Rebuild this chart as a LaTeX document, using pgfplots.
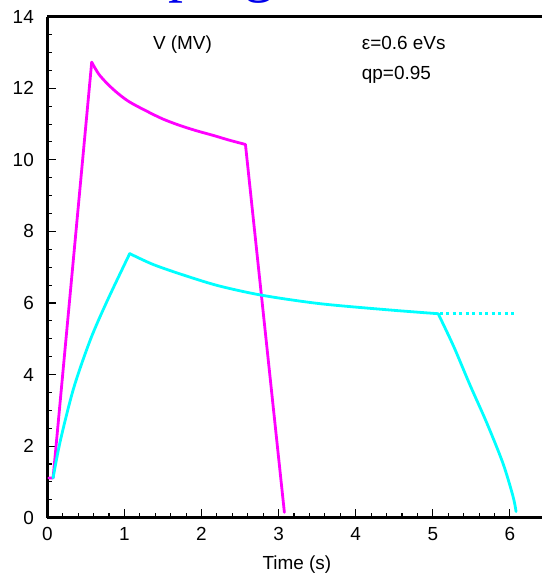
\documentclass[border=0pt]{standalone}
\usepackage{fontspec}
\setmainfont{Liberation Sans}
\newfontfamily\titleserif{Liberation Serif}
\usepackage{pgfplots}
\pgfplotsset{compat=1.18}
\definecolor{mag}{RGB}{255,0,255}
\definecolor{cya}{RGB}{0,255,255}
\definecolor{tblue}{RGB}{0,0,235}
\begin{document}
\fontsize{19}{23}\selectfont
\begin{tikzpicture}
\path[use as bounding box] (-47.3bp,-59.3bp) rectangle (495.7bp,517.7bp);
\node[anchor=base west, inner sep=0, text=tblue, font=\titleserif\fontsize{60}{60}\selectfont] at (8bp,526.7bp) {Ramping};
\begin{axis}[
 name=ax, at={(0,0)}, anchor=south west,
 scale only axis, width=494.2bp, height=501bp,
 xmin=0, xmax=6.41, ymin=0, ymax=14,
 axis x line*=box, axis y line*=left,
 axis line style={line width=2.6bp, black},
 xtick={0,1,2,3,4,5,6}, ytick={0,2,4,6,8,10,12,14},
 xtick pos=left, ytick pos=left,
 minor x tick num=4, minor y tick num=3,
 tick align=inside,
 major tick length=9bp, minor tick length=5bp,
 every tick/.style={black, line width=1.1bp},
 /pgf/number format/assume math mode=true,
 ticklabel style={font=\fontsize{19}{23}\selectfont},
 yticklabel style={xshift=-7bp},
 xticklabel style={yshift=-3bp},
 xlabel={Time (s)},
 xlabel style={at={(axis description cs:0.505,0)}, anchor=base, yshift=-51.3bp, font=\fontsize{19}{23}\selectfont},
 clip=false,
 every axis plot/.append style={line width=2.8bp, line cap=round, line join=round},
]
% magenta
\addplot[mag] coordinates {(0.02,1.11) (0.075,1.11) (0.576,12.73)};
\addplot[mag, smooth] coordinates {
 (0.576,12.73) (0.68,12.36) (0.86,11.96)
 (1.05,11.64) (1.29,11.36) (1.50,11.14) (1.72,10.96) (1.94,10.81) (2.157,10.68)
 (2.36,10.55) (2.57,10.43)};
\addplot[mag] coordinates {(2.57,10.43) (3.075,0.15)};
% cyan
\addplot[cya, smooth] coordinates {
 (0.075,1.11) (0.169,2.15) (0.342,3.62) (0.558,4.97) (0.775,6.05) (1.069,7.38)};
\addplot[cya, smooth] coordinates {
 (1.069,7.38) (1.38,7.07) (1.81,6.75) (2.24,6.47) (2.80,6.21) (3.54,5.98) (4.41,5.81) (5.07,5.70)};
\addplot[cya, smooth] coordinates {
 (5.07,5.70) (5.27,4.79) (5.48,3.72) (5.70,2.65) (5.91,1.52) (6.04,0.60) (6.08,0.17)};
\addplot[cya, line width=2.6bp, line cap=butt, dash pattern=on 3bp off 3.5bp] coordinates {
 (5.09,5.70) (6.05,5.70)
};
\node[anchor=base] at (axis cs:1.753,13.07) {V (MV)};
\node[anchor=base west, inner sep=0] at (axis cs:4.078,13.09) {ε=0.6 eVs};
\node[anchor=base west, inner sep=0] at (axis cs:4.078,12.25) {qp=0.95};
\end{axis}
\end{tikzpicture}
\end{document}
